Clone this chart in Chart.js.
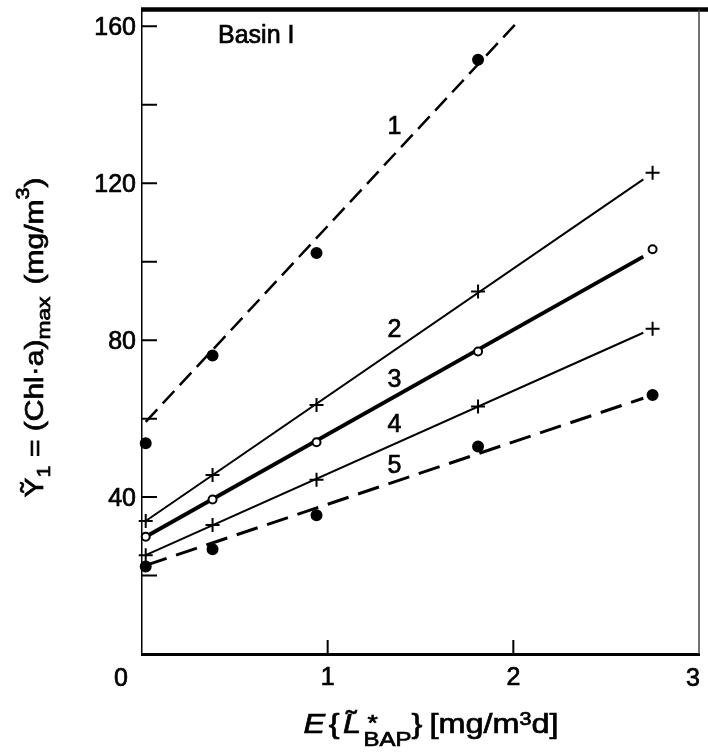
<!DOCTYPE html>
<html>
<head>
<meta charset="utf-8">
<script src="https://cdn.jsdelivr.net/npm/chart.js@4.4.1/dist/chart.umd.min.js"></script>
<style>
  html, body { margin: 0; padding: 0; background: #fff; }
  #wrap { width: 708px; height: 754px; }
</style>
</head>
<body>
<div id="wrap"><canvas id="basinChart"></canvas></div>
<script>
// load levels E{L*BAP} [mg/m3 d] where the runs were made
const loads = [0.02, 0.38, 0.94, 1.81, 2.75];

// (Chl-a) max [mg/m3] per curve
const chl1 = [53.7, 76.1, 102.2, 151.5];
const chl2 = [33.9, 45.6, 63.5, 92.4, 122.7];
const chl3 = [29.9, 39.4, 54.0, 77.1, 103.2];
const chl4 = [25.2, 32.9, 44.4, 63.1, 82.9];
const chl5 = [22.3, 26.7, 35.4, 52.9, 66.0];

// straight fitted lines: start/end x and y
const fit1X = [0.02, 2.02];
const fit1Y = [59.2, 161.0];
const fitX = [0.02, 2.70];
const fit2Y = [33.9, 121.0];
const fit3Y = [29.9, 101.3];
const fit4Y = [25.2, 81.9];
const fit5Y = [22.6, 65.2];

// curve numbers and where they sit
const curveNames = ["1", "2", "3", "4", "5"];
const curveNameX = [1.36, 1.36, 1.36, 1.36, 1.36];
const curveNameY = [134.4, 82.6, 69.9, 58.4, 47.8];

const xMin = 0, xMax = 3, xStep = 1;
const yMin = 0, yMax = 164.3, yStep = 20, yLabelStep = 40;

const FONT = '"Liberation Sans", Arial, "DejaVu Sans", sans-serif';

const pts = (xs, ys) => ys.map((v, i) => ({ x: xs[i], y: v }));

function fitLine(xs, ys, width, dash) {
  return {
    data: pts(xs, ys),
    showLine: true,
    borderColor: '#000',
    borderWidth: width,
    borderDash: dash,
    pointRadius: 0,
    fill: false,
    order: 2
  };
}

function marks(ys, style, radius, fillCol) {
  return {
    data: pts(loads, ys),
    showLine: false,
    pointStyle: style,
    pointRadius: radius,
    pointBorderWidth: 2,
    pointBorderColor: '#000',
    pointBackgroundColor: fillCol,
    clip: false,
    order: 1
  };
}

// fill + thin stroke so the lettering has some weight
function ink(ctx, t, x, y) {
  ctx.fillText(t, x, y);
  ctx.strokeText(t, x, y);
}

// draws a row of text pieces centred on (0,0), baseline at y=0
function drawRuns(ctx, runs, stretch) {
  let total = 0;
  runs.forEach(r => {
    ctx.font = (r.italic ? 'italic ' : '') + r.size + 'px ' + FONT;
    r.w = r.noAdvance ? 0 : ctx.measureText(r.t).width;
    total += r.w + (r.gap || 0);
  });
  let x = -total * stretch / 2;
  runs.forEach(r => {
    ctx.save();
    ctx.translate(x + (r.dx || 0), r.dy || 0);
    ctx.scale(stretch, 1);
    ctx.font = (r.italic ? 'italic ' : '') + r.size + 'px ' + FONT;
    ink(ctx, r.t, 0, 0);
    ctx.restore();
    x += (r.w + (r.gap || 0)) * stretch;
  });
}

const decor = {
  id: 'decor',
  afterDraw(chart) {
    const { ctx, chartArea: a, scales: { x, y } } = chart;
    ctx.save();
    ctx.strokeStyle = '#000';
    ctx.fillStyle = '#000';

    // tick marks point into the plot
    ctx.lineWidth = 2;
    ctx.beginPath();
    y.ticks.forEach(t => {
      if (t.value <= yMin) return;
      const py = y.getPixelForValue(t.value);
      ctx.moveTo(a.left, py);
      ctx.lineTo(a.left + 15, py);
    });
    x.ticks.forEach(t => {
      if (t.value <= xMin || t.value >= xMax) return;
      const px = x.getPixelForValue(t.value);
      ctx.moveTo(px, a.bottom);
      ctx.lineTo(px, a.bottom - 14);
    });
    ctx.stroke();

    // heavy top rule and thin right edge
    ctx.lineWidth = 4.5;
    ctx.beginPath();
    ctx.moveTo(a.left - 1, a.top);
    ctx.lineTo(chart.width, a.top);
    ctx.stroke();
    ctx.strokeStyle = '#444';
    ctx.lineWidth = 1.5;
    ctx.beginPath();
    ctx.moveTo(a.right, a.top);
    ctx.lineTo(a.right, a.bottom);
    ctx.stroke();

    ctx.strokeStyle = '#000';
    ctx.lineWidth = 0.7;

    // end labels of the x axis: 0 set off left of the corner, 3 kept inside the page
    ctx.font = '25px ' + FONT;
    ctx.textAlign = 'center';
    ctx.textBaseline = 'middle';
    ink(ctx, String(xMin), x.getPixelForValue(xMin) - 21, a.bottom + 25);
    ink(ctx, String(xMax), x.getPixelForValue(xMax) - 6, a.bottom + 25);

    // curve numbers
    curveNames.forEach((n, i) => {
      ink(ctx, n, x.getPixelForValue(curveNameX[i]), y.getPixelForValue(curveNameY[i]));
    });

    // panel name
    ctx.textAlign = 'left';
    ctx.textBaseline = 'alphabetic';
    ink(ctx, 'Basin I', a.left + 76, a.top + 33.5);

    // x axis title
    ctx.save();
    ctx.translate(431, 733);
    drawRuns(ctx, [
      { t: 'E', size: 27, italic: true, gap: 3 },
      { t: '{', size: 27, gap: 3 },
      { t: '\u02DC', size: 27, noAdvance: true, dx: 3, dy: -3 },
      { t: 'L', size: 27, italic: true, gap: 2 },
      { t: '*', size: 22, noAdvance: true, dx: 4, dy: -3 },
      { t: 'BAP', size: 20, dy: 13 },
      { t: '}', size: 27, gap: 6 },
      { t: '[mg/m', size: 27 },
      { t: '3', size: 18, dy: -8 },
      { t: 'd]', size: 27 }
    ], 1.2);
    ctx.restore();

    // y axis title, reading upward
    ctx.save();
    ctx.translate(43, 337.5);
    ctx.rotate(-Math.PI / 2);
    drawRuns(ctx, [
      { t: '\u1EF8', size: 25 },
      { t: '1', size: 18, dy: 7 },
      { t: ' = ', size: 25 },
      { t: '(Chl\u00B7a)', size: 25 },
      { t: 'max', size: 19, dy: 7, gap: 10 },
      { t: '(mg/m', size: 25 },
      { t: '3', size: 18, dy: -14 },
      { t: ')', size: 25 }
    ], 1.2);
    ctx.restore();

    ctx.restore();
  }
};

new Chart(document.getElementById('basinChart'), {
  type: 'scatter',
  data: {
    datasets: [
      marks(chl1, 'circle', 5, '#000'),
      marks(chl2, 'cross', 7, '#000'),
      marks(chl3, 'circle', 4, '#fff'),
      marks(chl4, 'cross', 7, '#000'),
      marks(chl5, 'circle', 5, '#000'),
      fitLine(fit1X, fit1Y, 2.5, [17, 8]),
      fitLine(fitX, fit2Y, 2, []),
      fitLine(fitX, fit3Y, 4, []),
      fitLine(fitX, fit4Y, 2, []),
      fitLine(fitX, fit5Y, 3, [22, 10])
    ]
  },
  options: {
    responsive: true,
    maintainAspectRatio: false,
    animation: false,
    layout: { padding: { top: 9.5, right: 1, left: 0, bottom: 0 } },
    plugins: {
      legend: { display: false },
      tooltip: { enabled: false }
    },
    scales: {
      x: {
        type: 'linear',
        min: xMin,
        max: xMax,
        afterFit: s => {
          s.height = 100;
          s.paddingLeft = 0;
          s.paddingRight = 0;
        },
        grid: { drawOnChartArea: false, drawTicks: false },
        border: { color: '#000', width: 3 },
        ticks: {
          stepSize: xStep,
          padding: 9,
          color: '#000',
          textStrokeColor: '#000',
          textStrokeWidth: 0.7,
          font: { family: FONT, size: 25 },
          callback: v => (v === xMin || v === xMax ? '' : String(v))
        }
      },
      y: {
        type: 'linear',
        min: yMin,
        max: yMax,
        afterFit: s => {
          s.width = 142;
          s.paddingTop = 0;
          s.paddingBottom = 0;
        },
        grid: { drawOnChartArea: false, drawTicks: false },
        border: { color: '#000', width: 1.5 },
        ticks: {
          stepSize: yStep,
          includeBounds: false,
          padding: 6,
          labelOffset: 2,
          color: '#000',
          textStrokeColor: '#000',
          textStrokeWidth: 0.7,
          font: { family: FONT, size: 25 },
          callback: v => (v > 0 && v % yLabelStep === 0 ? String(v) : '')
        }
      }
    }
  },
  plugins: [decor]
});
</script>
</body>
</html>
